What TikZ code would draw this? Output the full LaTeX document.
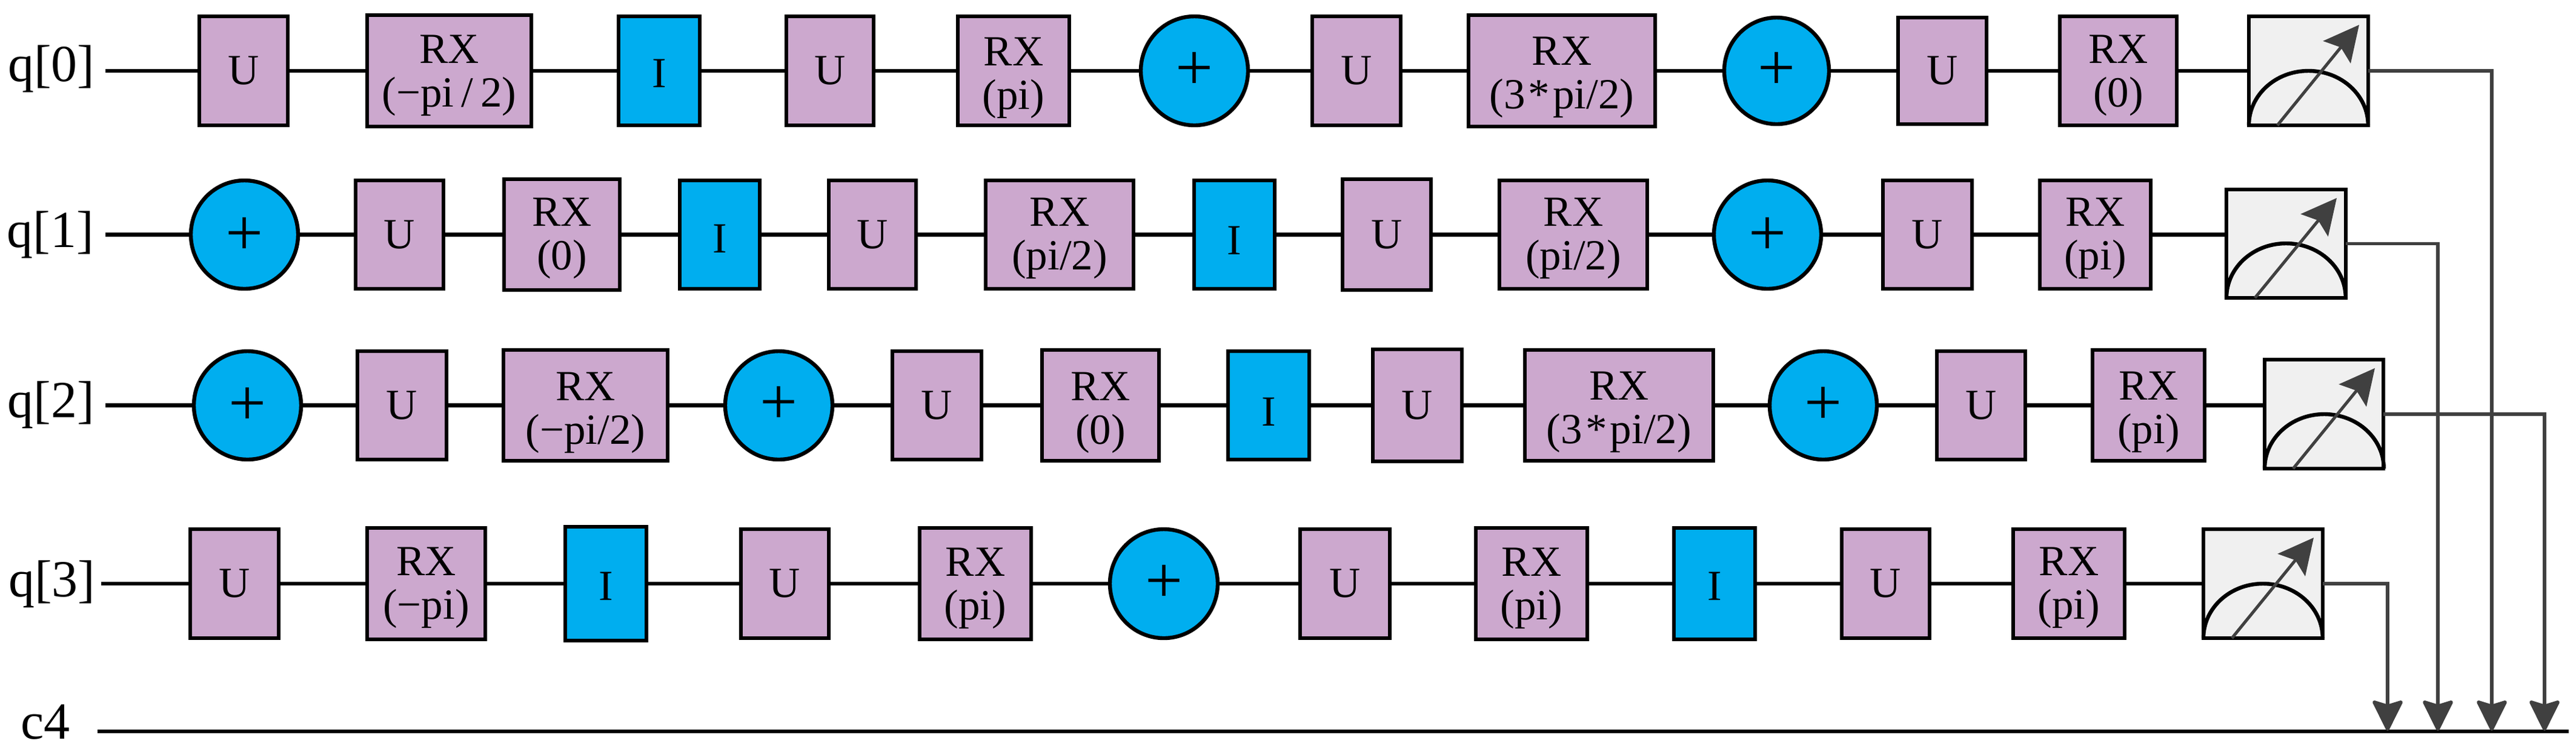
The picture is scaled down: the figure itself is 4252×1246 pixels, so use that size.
\documentclass[tikz,border=0pt]{standalone}
\usepackage{fontspec}
\setmainfont{Liberation Serif}
\usetikzlibrary{arrows.meta,calc,shapes.geometric}
\definecolor{gatepurple}{RGB}{204,168,206}
\definecolor{gateblue}{RGB}{0,174,239}
\definecolor{meterfill}{RGB}{240,240,240}
\definecolor{measgray}{RGB}{64,64,64}
\tikzset{
  boxbase/.style={draw=black,line width=1.6pt,inner sep=0pt,outer sep=0pt,rectangle,align=center,
    font=\fontsize{17.75pt}{18pt}\selectfont},
  ugate/.style={boxbase,fill=gatepurple},
  igate/.style={boxbase,fill=gateblue},
  xgate/.style={boxbase,ellipse,fill=gateblue,font=\fontsize{27.5pt}{28pt}\selectfont},
  mbox/.style={boxbase,fill=meterfill},
  wire/.style={draw=black,line width=1.7pt},
  meas/.style={draw=measgray,line width=1.4pt},
  measarrow/.style={meas,-{Stealth[length=13.75pt,width=13.5pt,inset=2pt,round=false]}},
  needle/.style={draw=measgray,line width=1.25pt,-{Stealth[length=14.5pt,width=14.5pt,inset=2.5pt]}},
  dome/.style={draw=black,line width=1.6pt},
  qlabel/.style={inner sep=0pt,font=\fontsize{21.5pt}{22pt}\selectfont}
}
\newcommand\gate[7]{%
  \pgfmathsetmacro\gateCx{(#3+#5)/2}%
  \pgfmathsetmacro\gateCy{(#4+#6)/2}%
  \pgfmathsetmacro\gateW{(#5-#3-6)*0.25}%
  \pgfmathsetmacro\gateH{(#6-#4-6)*0.25}%
  \node[#2,minimum width=\gateW pt,minimum height=\gateH pt] (#1) at (\gateCx,\gateCy) {#7};}
\newcommand\rxt[2]{\rule{0pt}{\dimexpr 11.75pt+0.5pt*#1\relax}RX\\#2}
\newcommand\itx[1]{\rule{0pt}{\dimexpr 11.75pt+0.5pt*#1\relax}I}
\newcommand\plusg[1]{\rule{0pt}{\dimexpr 13.9pt+0.5pt*#1\relax}+}
\newcommand\meter[5]{%
  \gate{#1}{mbox}{#2}{#3}{#4}{#5}{}%
  \draw[dome] (#1.south west) arc[start angle=180,end angle=0,x radius=24.6pt,y radius=22.5pt];
  \draw[needle] ($(#1.south west)+(47,0)$) -- ($(#1.north west)+(182,14)$);
}
\newcommand\conn[2]{\draw[wire] (#1.east) -- (#1.east -| #2.west);}
\begin{document}
\begin{tikzpicture}[x=0.25pt,y=-0.25pt]
\useasboundingbox (0,0) rectangle (4252,1246);
% labels
\node[qlabel] (l0) at (85,114) {q[0]};
\node[qlabel] (l1) at (83,388) {q[1]};
\node[qlabel] (l2) at (84,669) {q[2]};
\node[qlabel] (l3) at (86,965) {q[3]};
\node[qlabel] (l4) at (75,1193) {c4};
% row 0
\gate{a1}{ugate}{326}{24}{478}{210}{U}
\gate{a2}{ugate}{603}{22}{880}{212}{\rxt{8}{(−pi\,/\,2)}}
\gate{a3}{igate}{1018}{24}{1158}{210}{\itx{4}}
\gate{a4}{ugate}{1295}{24}{1445}{210}{U}
\gate{a5}{ugate}{1578}{24}{1768}{210}{\rxt{12}{(pi)}}
\gate{a6}{xgate}{1880}{24}{2063}{210}{\plusg{4}}
\gate{a7}{ugate}{2163}{24}{2315}{210}{U}
\gate{a8}{ugate}{2421}{22}{2735}{212}{\rxt{11}{(3\kern1.3pt*\kern1.3pt pi/2)}}
\gate{a9}{xgate}{2843}{26}{3022}{208}{\plusg{4}}
\gate{a10}{ugate}{3130}{26}{3282}{208}{U}
\gate{a11}{ugate}{3397}{24}{3596}{210}{\rxt{8}{(0)}}
\meter{m0}{3709}{24}{3912}{210}
% row 1
\gate{b1}{xgate}{312}{295}{495}{480}{\plusg{6}}
\gate{b2}{ugate}{584}{295}{735}{480}{U}
\gate{b3}{ugate}{829}{293}{1026}{482}{\rxt{6}{(0)}}
\gate{b4}{igate}{1119}{295}{1257}{480}{\itx{6}}
\gate{b5}{ugate}{1365}{295}{1515}{480}{U}
\gate{b6}{ugate}{1624}{295}{1874}{480}{\rxt{6}{(pi/2)}}
\gate{b7}{igate}{1968}{295}{2107}{480}{\itx{9}}
\gate{b8}{ugate}{2213}{293}{2365}{482}{U}
\gate{b9}{ugate}{2472}{295}{2722}{480}{\rxt{6}{(pi/2)}}
\gate{b10}{xgate}{2826}{295}{3009}{480}{\plusg{6}}
\gate{b11}{ugate}{3105}{295}{3258}{480}{U}
\gate{b12}{ugate}{3364}{295}{3553}{480}{\rxt{6}{(pi)}}
\meter{m1}{3672}{310}{3875}{495}
% row 2
\gate{c1}{xgate}{317}{577}{500}{762}{\plusg{5}}
\gate{c2}{ugate}{587}{577}{740}{762}{U}
\gate{c3}{ugate}{828}{575}{1105}{764}{\rxt{12}{(−pi/2)}}
\gate{c4}{xgate}{1194}{577}{1377}{762}{\plusg{2}}
\gate{c5}{ugate}{1470}{577}{1623}{762}{U}
\gate{c6}{ugate}{1717}{575}{1916}{764}{\rxt{12}{(0)}}
\gate{c7}{igate}{2024}{577}{2164}{762}{\itx{10}}
\gate{c8}{ugate}{2263}{574}{2416}{765}{U}
\gate{c9}{ugate}{2514}{575}{2831}{764}{\rxt{11}{(3\kern1.3pt*\kern1.3pt pi/2)}}
\gate{c10}{xgate}{2918}{577}{3101}{762}{\plusg{4}}
\gate{c11}{ugate}{3194}{577}{3346}{762}{U}
\gate{c12}{ugate}{3451}{575}{3642}{764}{\rxt{11}{(pi)}}
\meter{m2}{3735}{591}{3937}{777}
% row 3
\gate{d1}{ugate}{311}{871}{463}{1057}{U}
\gate{d2}{ugate}{603}{869}{804}{1059}{\rxt{7}{(−pi)}}
\gate{d3}{igate}{930}{867}{1070}{1061}{\itx{4}}
\gate{d4}{ugate}{1220}{871}{1371}{1057}{U}
\gate{d5}{ugate}{1515}{869}{1705}{1059}{\rxt{8}{(pi)}}
\gate{d6}{xgate}{1829}{871}{2013}{1057}{\plusg{3}}
\gate{d7}{ugate}{2143}{871}{2297}{1057}{U}
\gate{d8}{ugate}{2433}{869}{2623}{1059}{\rxt{8}{(pi)}}
\gate{d9}{igate}{2760}{869}{2900}{1059}{\itx{4}}
\gate{d10}{ugate}{3037}{871}{3188}{1057}{U}
\gate{d11}{ugate}{3320}{871}{3510}{1057}{\rxt{7}{(pi)}}
\meter{m3}{3634}{871}{3837}{1057}
% input stubs
\coordinate (s0) at (174,117);
\coordinate (s1) at (174,387.5);
\coordinate (s2) at (174,669.5);
\coordinate (s3) at (167,964);
\draw[wire] (s0) -- (s0 -| a1.west);
\draw[wire] (s1) -- (s1 -| b1.west);
\draw[wire] (s2) -- (s2 -| c1.west);
\draw[wire] (s3) -- (s3 -| d1.west);
% wires
\foreach \p/\q in {a1/a2,a2/a3,a3/a4,a4/a5,a5/a6,a6/a7,a7/a8,a8/a9,a9/a10,a10/a11,a11/m0,
  b1/b2,b2/b3,b3/b4,b4/b5,b5/b6,b6/b7,b7/b8,b8/b9,b9/b10,b10/b11,b11/b12,
  c1/c2,c2/c3,c3/c4,c4/c5,c5/c6,c6/c7,c7/c8,c8/c9,c9/c10,c10/c11,c11/c12,c12/m2,
  d1/d2,d2/d3,d3/d4,d4/d5,d5/d6,d6/d7,d7/d8,d8/d9,d9/d10,d10/d11,d11/m3}{\conn{\p}{\q}}
\draw[wire] (b12.east) -- (b12.east -| m1.west);
% classical register
\coordinate (r0) at (161,1208);
\coordinate (r1) at (4240,1208);
\draw[wire] (r0) -- (r1);
\coordinate (t3) at (3941,1207);
\coordinate (t1) at (4024,1207);
\coordinate (t0) at (4113,1207);
\coordinate (t2) at (4200,1207);
\draw[measarrow] (m0.east) -| (t0);
\draw[measarrow] (m1.east) -| (t1);
\draw[measarrow] (m2.east) -| (t2);
\draw[measarrow] (m3.east) -| (t3);
\end{tikzpicture}
\end{document}
